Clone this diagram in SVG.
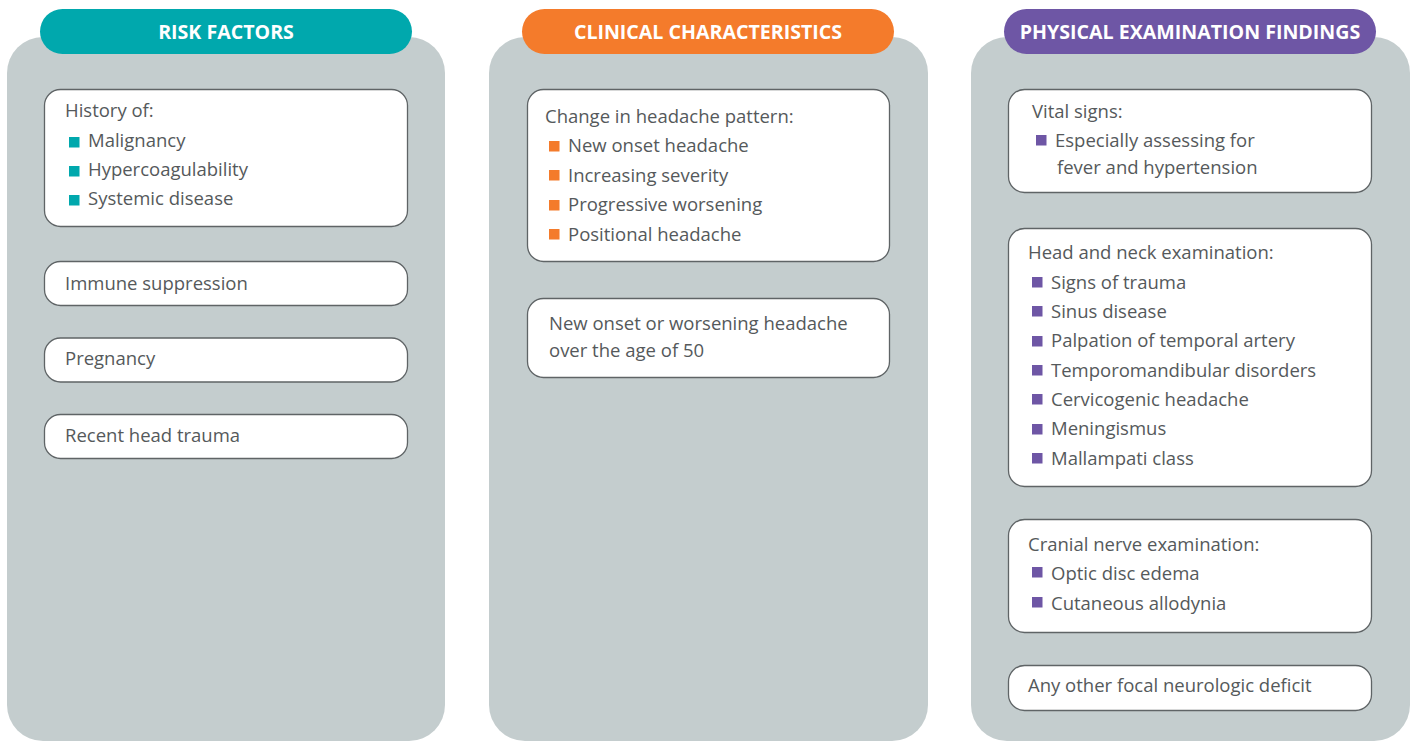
<svg xmlns="http://www.w3.org/2000/svg" width="1410" height="741" viewBox="0 0 1410 741">
  <style>
    .panel { fill: #c4cdce; }
    .head { font-family: "Open Sans", "Liberation Sans", sans-serif; font-weight: 700; font-size: 19.6px; fill: #ffffff; text-anchor: middle; }
    .box { fill: #ffffff; stroke: #5f6466; stroke-width: 1.3; }
    .t { font-family: "Open Sans", "Liberation Sans", sans-serif; font-size: 18.5px; fill: #55595b; }
    .teal { fill: #00a8ad; }
    .orange { fill: #f47b2b; }
    .purple { fill: #6e56a5; }
  </style>
  <rect width="1410" height="741" fill="#ffffff"/>

  <!-- Column 1: risk factors -->
  <g id="col-risk">
    <rect class="panel" x="7" y="37" width="438" height="704" rx="36"/>
    <rect class="teal" x="40" y="9" width="372" height="45" rx="22.5"/>
    <text class="head" x="226" y="38.5">RISK FACTORS</text>
  </g>
  <g id="risk-history">
    <rect class="box" x="44.5" y="89.5" width="363" height="137" rx="16"/>
    <text class="t" x="65" y="117">History of:</text>
    <rect class="teal" x="69" y="137" width="10.5" height="10.5"/>
    <text class="t" x="88" y="146.5">Malignancy</text>
    <rect class="teal" x="69" y="166" width="10.5" height="10.5"/>
    <text class="t" x="88" y="176">Hypercoagulability</text>
    <rect class="teal" x="69" y="195" width="10.5" height="10.5"/>
    <text class="t" x="88" y="205">Systemic disease</text>
  </g>
  <g id="risk-immune">
    <rect class="box" x="44.5" y="261.5" width="363" height="44" rx="16"/>
    <text class="t" x="65" y="290">Immune suppression</text>
  </g>
  <g id="risk-pregnancy">
    <rect class="box" x="44.5" y="338" width="363" height="44" rx="16"/>
    <text class="t" x="65" y="364.5">Pregnancy</text>
  </g>
  <g id="risk-trauma">
    <rect class="box" x="44.5" y="414.5" width="363" height="44" rx="16"/>
    <text class="t" x="65" y="442">Recent head trauma</text>
  </g>

  <!-- Column 2: clinical characteristics -->
  <g id="col-clinical">
    <rect class="panel" x="489" y="37" width="439" height="704" rx="36"/>
    <rect class="orange" x="522" y="9" width="372" height="45" rx="22.5"/>
    <text class="head" x="708" y="38.5">CLINICAL CHARACTERISTICS</text>
  </g>
  <g id="clinical-pattern">
    <rect class="box" x="527.5" y="89.5" width="362" height="172" rx="16"/>
    <text class="t" x="545" y="123">Change in headache pattern:</text>
    <rect class="orange" x="549" y="141" width="10.5" height="10.5"/>
    <text class="t" x="568" y="152">New onset headache</text>
    <rect class="orange" x="549" y="170" width="10.5" height="10.5"/>
    <text class="t" x="568" y="181.5">Increasing severity</text>
    <rect class="orange" x="549" y="200" width="10.5" height="10.5"/>
    <text class="t" x="568" y="211">Progressive worsening</text>
    <rect class="orange" x="549" y="229" width="10.5" height="10.5"/>
    <text class="t" x="568" y="240.5">Positional headache</text>
  </g>
  <g id="clinical-age">
    <rect class="box" x="527.5" y="298.5" width="362" height="79" rx="16"/>
    <text class="t" x="549" y="329.5">New onset or worsening headache</text>
    <text class="t" x="549" y="357">over the age of 50</text>
  </g>

  <!-- Column 3: physical examination findings -->
  <g id="col-exam">
    <rect class="panel" x="971" y="37" width="439" height="704" rx="36"/>
    <rect class="purple" x="1004" y="9" width="372" height="45" rx="22.5"/>
    <text class="head" x="1190" y="38.5">PHYSICAL EXAMINATION FINDINGS</text>
  </g>
  <g id="exam-vitals">
    <rect class="box" x="1008.5" y="89.5" width="363" height="103" rx="16"/>
    <text class="t" x="1032" y="117.5">Vital signs:</text>
    <rect class="purple" x="1036" y="135" width="10.5" height="10.5"/>
    <text class="t" x="1055" y="146.5">Especially assessing for</text>
    <text class="t" x="1057" y="173.5">fever and hypertension</text>
  </g>
  <g id="exam-head-neck">
    <rect class="box" x="1008.5" y="228.5" width="363" height="258" rx="16"/>
    <text class="t" x="1028" y="259">Head and neck examination:</text>
    <rect class="purple" x="1032" y="277" width="10.5" height="10.5"/>
    <text class="t" x="1051" y="288.5">Signs of trauma</text>
    <rect class="purple" x="1032" y="306" width="10.5" height="10.5"/>
    <text class="t" x="1051" y="317.5">Sinus disease</text>
    <rect class="purple" x="1032" y="336" width="10.5" height="10.5"/>
    <text class="t" x="1051" y="347">Palpation of temporal artery</text>
    <rect class="purple" x="1032" y="365" width="10.5" height="10.5"/>
    <text class="t" x="1051" y="376.5">Temporomandibular disorders</text>
    <rect class="purple" x="1032" y="394" width="10.5" height="10.5"/>
    <text class="t" x="1051" y="405.5">Cervicogenic headache</text>
    <rect class="purple" x="1032" y="424" width="10.5" height="10.5"/>
    <text class="t" x="1051" y="435">Meningismus</text>
    <rect class="purple" x="1032" y="453" width="10.5" height="10.5"/>
    <text class="t" x="1051" y="464.5">Mallampati class</text>
  </g>
  <g id="exam-cranial">
    <rect class="box" x="1008.5" y="519.5" width="363" height="113" rx="16"/>
    <text class="t" x="1028" y="551">Cranial nerve examination:</text>
    <rect class="purple" x="1032" y="567" width="10.5" height="10.5"/>
    <text class="t" x="1051" y="580">Optic disc edema</text>
    <rect class="purple" x="1032" y="597" width="10.5" height="10.5"/>
    <text class="t" x="1051" y="609.5">Cutaneous allodynia</text>
  </g>
  <g id="exam-focal">
    <rect class="box" x="1008.5" y="665.5" width="363" height="45" rx="16"/>
    <text class="t" x="1028" y="692">Any other focal neurologic deficit</text>
  </g>

  <!-- no connectors in this layout -->
  <g id="connectors"/>
</svg>
